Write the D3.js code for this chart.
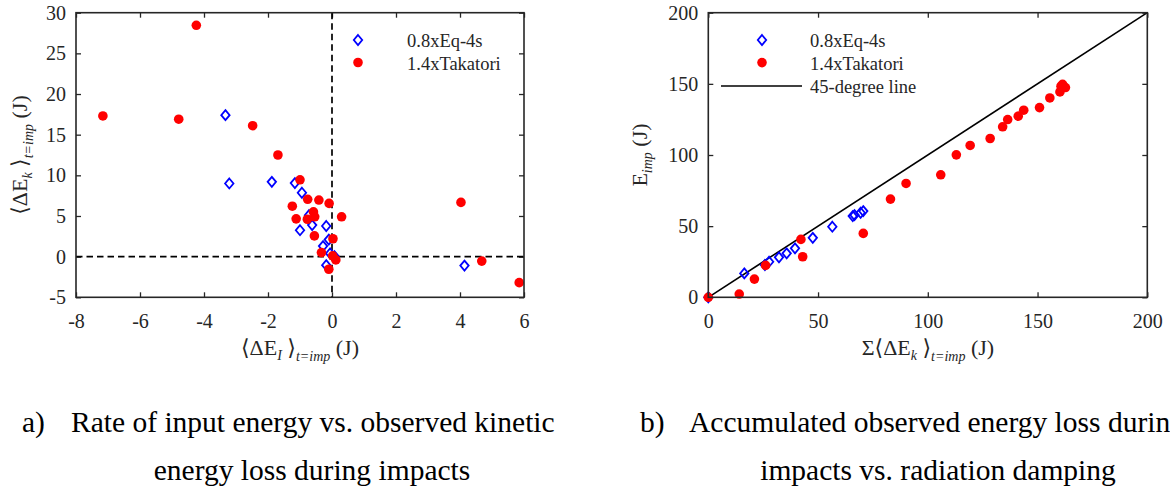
<!DOCTYPE html>
<html>
<head>
<meta charset="utf-8">
<script src="https://cdn.jsdelivr.net/npm/d3@7"></script>
<style>
  html, body { margin: 0; padding: 0; background: #fff; }
  svg { display: block; }
  svg, svg text, svg tspan { font-family: "Liberation Serif", "Times New Roman", "DejaVu Serif", serif !important; }
</style>
</head>
<body>
<svg id="chart" width="1170" height="491" font-family="Liberation Serif, serif"></svg>
<script>
// ---------- DATA ----------
// Panel a: <dE_I> (x) vs <dE_k> (y)
const seriesNames = ["0.8xEq-4s", "1.4xTakatori"];
const aBlueX = [-3.33, -3.21, -1.88, -1.16, -0.94, -0.72, -1.00, -0.62, -0.18, -0.10, -0.28, -0.06, 0.08, -0.18, 4.14];
const aBlueY = [17.4, 9.0, 9.2, 9.05, 7.86, 5.1, 3.25, 3.88, 3.77, 2.1, 1.3, 0.4, 0.05, -1.05, -1.1];
const aRedX = [-7.16, -4.79, -4.24, -2.48, -1.69, -1.00, -1.24, -1.12, -0.76, -0.41, -0.09, -0.58, -0.54, -0.77, 0.30, -0.55, 0.03, -0.33, 0.02, 0.12, -0.10, 4.03, 4.68, 5.85];
const aRedY = [17.3, 16.9, 28.45, 16.1, 12.5, 9.45, 6.2, 4.65, 7.05, 6.96, 6.55, 5.5, 4.9, 4.6, 4.9, 2.55, 2.2, 0.5, 0.1, -0.4, -1.55, 6.67, -0.55, -3.2];
const aXTicks = [-8, -6, -4, -2, 0, 2, 4, 6];
const aYTicks = [-5, 0, 5, 10, 15, 20, 25, 30];

// Panel b: sum<dE_k> (x) vs E_imp (y)
const bBlueX = [0, 16.4, 25.8, 27.7, 32.2, 35.7, 39.5, 47.6, 56.5, 65.8, 66.6, 69.4, 70.6];
const bBlueY = [0, 16.8, 22.7, 25.0, 28.1, 30.9, 34.4, 41.8, 49.6, 57.1, 57.8, 59.4, 60.6];
const bRedX = [0, 14.1, 21.0, 26.1, 42.2, 43.0, 70.6, 83.0, 90.1, 105.9, 113.0, 119.3, 128.4, 134.1, 136.4, 141.2, 143.7, 150.9, 155.6, 160.2, 160.7, 161.4, 162.7];
const bRedY = [0, 2.3, 12.8, 22.4, 40.7, 28.5, 44.9, 69.0, 80.0, 86.1, 100.1, 106.7, 111.6, 119.8, 124.9, 127.3, 131.5, 133.3, 140.1, 144.3, 148.3, 149.7, 147.4];
const bTicks = [0, 50, 100, 150, 200];
const lineName = "45-degree line";
const captionA = ["a)", "Rate of input energy vs. observed kinetic", "energy loss during impacts"];
const captionB = ["b)", "Accumulated observed energy loss during", "impacts vs. radiation damping"];

// ---------- DRAW ----------
const SERIF = "Liberation Serif, Times New Roman, serif";
const svg = d3.select("#chart");
const AX = "#262626";
const BLUE = "#0000ff", RED = "#ff0000";
const zip = (xs, ys) => xs.map((v, i) => [v, ys[i]]);

function diamondPath(w, h) { return `M0,${-h}L${w},0L0,${h}L${-w},0Z`; }

function panel(x, y, xt, yt) {
  const g = svg.append("g");
  const [x0, x1] = x.range(), [y0, y1] = y.range();
  const bottom = g.append("g").attr("transform", `translate(0,${y0})`)
    .call(d3.axisBottom(x).tickValues(xt).tickSizeInner(-5).tickSizeOuter(0).tickPadding(16.5));
  const top = g.append("g").attr("transform", `translate(0,${y1})`)
    .call(d3.axisTop(x).tickValues(xt).tickSizeInner(-5).tickSizeOuter(0).tickFormat(""));
  const left = g.append("g").attr("transform", `translate(${x0},0)`)
    .call(d3.axisLeft(y).tickValues(yt).tickSizeInner(-5).tickSizeOuter(0).tickPadding(10));
  const right = g.append("g").attr("transform", `translate(${x1},0)`)
    .call(d3.axisRight(y).tickValues(yt).tickSizeInner(-5).tickSizeOuter(0).tickFormat(""));
  [bottom, top, left, right].forEach(a => {
    a.attr("font-family", SERIF).attr("font-size", 20);
    a.select(".domain").remove();
    a.selectAll("line").attr("stroke", AX).attr("stroke-width", 1.3);
    a.selectAll("text").attr("fill", AX).attr("font-family", SERIF).style("font-size", "20px");
  });
  bottom.selectAll("text").text(d => String(d));
  left.selectAll("text").text(d => String(d));
  return g;
}

function box(g, x, y) {
  const [x0, x1] = x.range(), [y0, y1] = y.range();
  g.append("rect").attr("x", x0).attr("y", y1).attr("width", x1 - x0).attr("height", y0 - y1)
    .attr("fill", "none").attr("stroke", AX).attr("stroke-width", 1.6);
}

function drawBlue(g, pts, x, y) {
  g.append("g").selectAll("path").data(pts).join("path")
    .attr("d", diamondPath(4.2, 5))
    .attr("transform", d => `translate(${x(d[0])},${y(d[1])})`)
    .attr("fill", "none").attr("stroke", BLUE).attr("stroke-width", 1.8);
}
function drawRed(g, pts, x, y) {
  g.append("g").selectAll("circle").data(pts).join("circle")
    .attr("cx", d => x(d[0])).attr("cy", d => y(d[1])).attr("r", 4.8)
    .attr("fill", RED);
}

// ----- Panel a -----
const xa = d3.scaleLinear().domain([-8, 6]).range([76, 524]);
const ya = d3.scaleLinear().domain([-5, 30]).range([297.3, 12.7]);
const ga = panel(xa, ya, aXTicks, aYTicks);
ga.append("line").attr("x1", xa(0)).attr("x2", xa(0)).attr("y1", ya(30)).attr("y2", ya(-5))
  .attr("stroke", "#000").attr("stroke-width", 1.7).attr("stroke-dasharray", "6.5,4");
ga.append("line").attr("x1", xa(-8)).attr("x2", xa(6)).attr("y1", ya(0)).attr("y2", ya(0))
  .attr("stroke", "#000").attr("stroke-width", 1.7).attr("stroke-dasharray", "6.5,4");
drawBlue(ga, zip(aBlueX, aBlueY), xa, ya);
drawRed(ga, zip(aRedX, aRedY), xa, ya);
box(ga, xa, ya);
const la = ga.append("g").attr("font-family", SERIF);
la.append("path").attr("d", diamondPath(4.2, 5)).attr("transform", "translate(358,40)")
  .attr("fill", "none").attr("stroke", BLUE).attr("stroke-width", 1.8);
la.append("circle").attr("cx", 358).attr("cy", 62.5).attr("r", 4.8).attr("fill", RED);
la.append("text").attr("x", 407).attr("y", 47).attr("fill", AX).style("font-size", "18.5px").text(seriesNames[0]);
la.append("text").attr("x", 407).attr("y", 69.5).attr("fill", AX).style("font-size", "18.5px").text(seriesNames[1]);

const yta = ga.append("text").attr("transform", "translate(27,155) rotate(-90)")
  .attr("text-anchor", "middle").attr("fill", AX).style("font-size", "22px");
yta.append("tspan").text("⟨ΔE");
yta.append("tspan").attr("dy", 5).style("font-size", "14px").style("font-style", "italic").text("k");
yta.append("tspan").attr("dy", -5).text(" ⟩");
yta.append("tspan").attr("dy", 6).style("font-size", "14px").style("font-style", "italic").text("t=imp");
yta.append("tspan").attr("dy", -6).text(" (J)");

const xta = ga.append("text").attr("x", 300).attr("y", 355)
  .attr("text-anchor", "middle").attr("fill", AX).style("font-size", "22px");
xta.append("tspan").text("⟨ΔE");
xta.append("tspan").attr("dy", 5).style("font-size", "14px").style("font-style", "italic").text("I");
xta.append("tspan").attr("dy", -5).text(" ⟩");
xta.append("tspan").attr("dy", 6).style("font-size", "14px").style("font-style", "italic").text("t=imp");
xta.append("tspan").attr("dy", -6).text(" (J)");

// ----- Panel b -----
const xb = d3.scaleLinear().domain([0, 200]).range([708.3, 1147.3]);
const yb = d3.scaleLinear().domain([0, 200]).range([297.3, 12.7]);
const gb = panel(xb, yb, bTicks, bTicks);
gb.append("line").attr("x1", xb(0)).attr("y1", yb(0)).attr("x2", xb(200)).attr("y2", yb(200))
  .attr("stroke", "#000").attr("stroke-width", 1.6);
drawBlue(gb, zip(bBlueX, bBlueY), xb, yb);
drawRed(gb, zip(bRedX, bRedY), xb, yb);
box(gb, xb, yb);
const lb = gb.append("g").attr("font-family", SERIF);
lb.append("path").attr("d", diamondPath(4.2, 5)).attr("transform", "translate(762,40)")
  .attr("fill", "none").attr("stroke", BLUE).attr("stroke-width", 1.8);
lb.append("circle").attr("cx", 762).attr("cy", 62.6).attr("r", 4.8).attr("fill", RED);
lb.append("line").attr("x1", 721).attr("x2", 802).attr("y1", 86).attr("y2", 86)
  .attr("stroke", "#000").attr("stroke-width", 1.6);
[seriesNames[0], seriesNames[1], lineName].forEach((t, i) => {
  lb.append("text").attr("x", 810).attr("y", 47 + i * 22.8).attr("fill", AX)
    .style("font-size", "18.5px").text(t);
});

const ytb = gb.append("text").attr("transform", "translate(647,155) rotate(-90)")
  .attr("text-anchor", "middle").attr("fill", AX).style("font-size", "22px");
ytb.append("tspan").text("E");
ytb.append("tspan").attr("dy", 5).style("font-size", "14px").style("font-style", "italic").text("imp");
ytb.append("tspan").attr("dy", -5).text(" (J)");

const xtb = gb.append("text").attr("x", 928).attr("y", 355)
  .attr("text-anchor", "middle").attr("fill", AX).style("font-size", "22px");
xtb.append("tspan").text("Σ⟨ΔE");
xtb.append("tspan").attr("dy", 5).style("font-size", "14px").style("font-style", "italic").text("k");
xtb.append("tspan").attr("dy", -5).text(" ⟩");
xtb.append("tspan").attr("dy", 6).style("font-size", "14px").style("font-style", "italic").text("t=imp");
xtb.append("tspan").attr("dy", -6).text(" (J)");

// ----- Captions (right caption runs past the edge, as in the reference) -----
const cap = svg.append("g").attr("fill", "#000").attr("font-family", SERIF).style("font-size", "29.5px");
cap.append("text").attr("x", 22).attr("y", 432).text(captionA[0]);
cap.append("text").attr("x", 71).attr("y", 432).text(captionA[1]);
cap.append("text").attr("x", 312).attr("y", 480).attr("text-anchor", "middle").text(captionA[2]);
cap.append("text").attr("x", 640).attr("y", 432).text(captionB[0]);
cap.append("text").attr("x", 689).attr("y", 432).text(captionB[1]);
cap.append("text").attr("x", 938).attr("y", 480).attr("text-anchor", "middle").text(captionB[2]);
</script>
</body>
</html>
